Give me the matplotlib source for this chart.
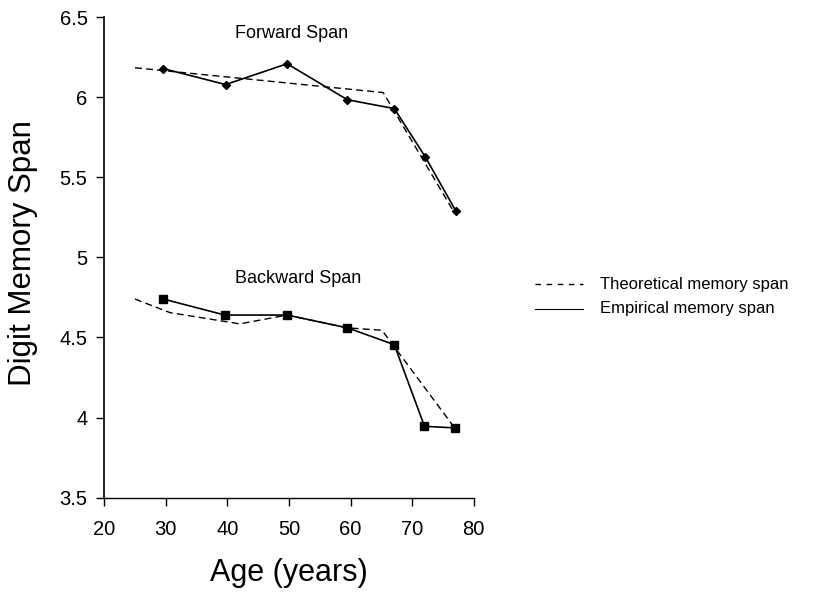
import matplotlib.pyplot as plt

plt.rcParams["font.family"] = ["Liberation Sans", "DejaVu Sans"]

# forward span
fwd_age = [29.6, 39.7, 49.7, 59.5, 67.1, 72.1, 77.1]
fwd_emp = [6.18, 6.08, 6.21, 5.985, 5.93, 5.63, 5.29]
fwd_theo_age = [25, 65.3, 77]
fwd_theo = [6.185, 6.03, 5.27]

# backward span
bwd_age = [29.6, 39.6, 49.7, 59.5, 67.1, 72.0, 77.0]
bwd_emp = [4.74, 4.64, 4.64, 4.56, 4.455, 3.945, 3.935]
bwd_theo_age = [25, 30.7, 42, 49.7, 59.5, 65.1, 77]
bwd_theo = [4.74, 4.655, 4.585, 4.64, 4.56, 4.545, 3.93]

fig = plt.figure(figsize=(8.14, 5.98), dpi=100)
ax = fig.add_axes([0.128, 0.168, 0.454, 0.803])

ax.plot(fwd_theo_age, fwd_theo, color="black", lw=1.0, ls=(0, (5, 3)))
ax.plot(fwd_age, fwd_emp, color="black", lw=1.2, marker="D", ms=4)
ax.plot(bwd_theo_age, bwd_theo, color="black", lw=1.0, ls=(0, (5, 3)))
ax.plot(bwd_age, bwd_emp, color="black", lw=1.2, marker="s", ms=5.5)

ax.text(50.5, 6.4, "Forward Span", ha="center", va="center", fontsize=13)
ax.text(51.5, 4.87, "Backward Span", ha="center", va="center", fontsize=13)

ax.set_xlim(20, 80)
ax.set_ylim(3.5, 6.5)
ax.set_xticks([20, 30, 40, 50, 60, 70, 80])
ax.set_yticks([3.5, 4, 4.5, 5, 5.5, 6, 6.5])
ax.set_yticklabels(["3.5", "4", "4.5", "5", "5.5", "6", "6.5"])
ax.tick_params(labelsize=14.5, length=6, width=1, direction="out", pad=6)
ax.tick_params(axis="x", pad=10)
for s in ["top", "right"]:
    ax.spines[s].set_visible(False)
ax.spines["left"].set_linewidth(1.2)
ax.spines["bottom"].set_linewidth(1.0)

ax.set_xlabel("Age (years)", fontsize=22, labelpad=14)
ax.set_ylabel("Digit Memory Span", fontsize=22.5)
ax.yaxis.set_label_coords(-0.178, 0.51)

# legend drawn by hand at right
fig.lines.append(plt.Line2D([535 / 814, 583 / 814], [1 - 284 / 598] * 2, color="black",
                            lw=1.0, ls=(0, (4, 4)), transform=fig.transFigure))
fig.lines.append(plt.Line2D([535 / 814, 583 / 814], [1 - 309 / 598] * 2, color="black",
                            lw=0.8, transform=fig.transFigure))
fig.text(600 / 814, 1 - 284 / 598, "Theoretical memory span", fontsize=12, va="center")
fig.text(600 / 814, 1 - 309 / 598, "Empirical memory span", fontsize=12, va="center")

fig.savefig("out.png", dpi=100)
